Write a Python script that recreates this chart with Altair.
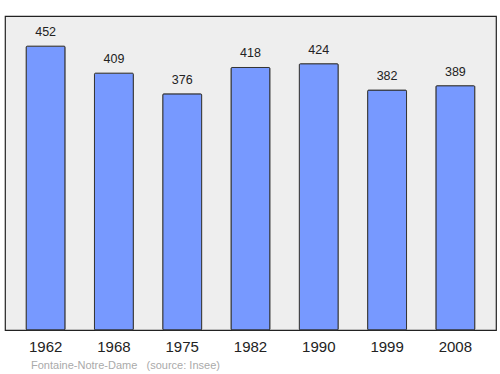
import altair as alt
import pandas as pd

years = ["1962", "1968", "1975", "1982", "1990", "1999", "2008"]
population = [452, 409, 376, 418, 424, 382, 389]

df = pd.DataFrame({"year": years, "pop": population})

FONT = "Liberation Sans"

x = alt.X("year:N", sort=years,
          scale=alt.Scale(paddingInner=0.43, paddingOuter=0.31),
          axis=alt.Axis(title=None, labelAngle=0, ticks=False, domain=False,
                        labelFontSize=15, labelColor="#222222", labelFont=FONT,
                        labelPadding=9))
y = alt.Y("pop:Q", scale=alt.Scale(domain=[0, 500], nice=False), axis=None)

bars = alt.Chart(df).mark_bar(color="#7799ff", stroke="#333333", strokeWidth=1,
                              cornerRadius=1).encode(x=x, y=y)
labels = alt.Chart(df).mark_text(dy=-10, baseline="alphabetic", fontSize=12.5,
                                 font=FONT, color="#222222").encode(
    x=x, y=y, text="pop:Q")

chart = (bars + labels).properties(
    width=491, height=314,
    background="white",
    title=alt.TitleParams(
        "Fontaine-Notre-Dame\u00a0\u00a0\u00a0(source: Insee)",
        orient="bottom", anchor="start", dx=26, offset=6,
        fontSize=11, font=FONT, fontWeight="normal", color="#aaaaaa"),
    padding={"left": 5, "top": 16, "right": 4, "bottom": 44},
    autosize=alt.AutoSizeParams(type="none"),
).configure_view(fill="#eeeeee", stroke="#222222", strokeWidth=1.2)

chart.save("out.html", embed_options={"renderer": "svg", "actions": False})
